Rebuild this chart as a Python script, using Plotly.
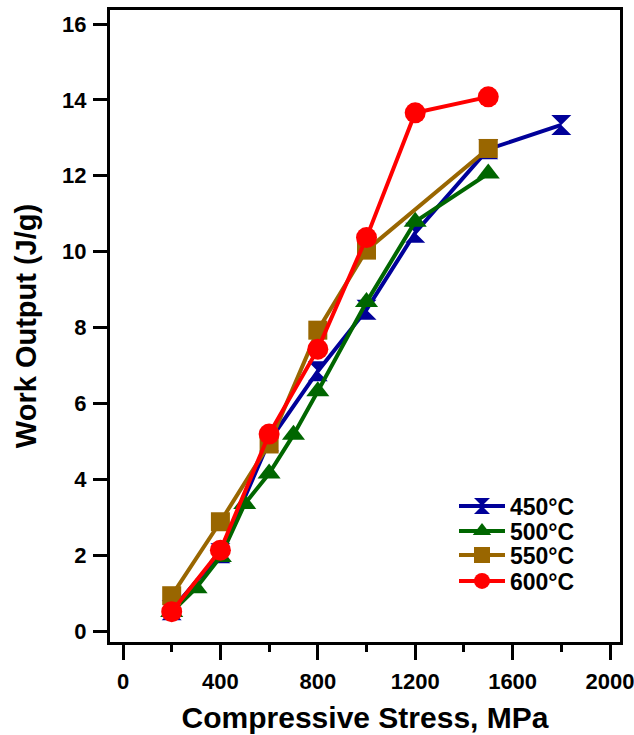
import plotly.graph_objects as go

# Data
stress_450 = [200, 400, 600, 800, 1000, 1200, 1500, 1800]
work_450 = [0.55, 2.05, 5.0, 6.85, 8.47, 10.5, 12.7, 13.34]

stress_500 = [200, 300, 400, 500, 600, 700, 800, 1000, 1200, 1500]
work_500 = [0.5, 1.13, 1.95, 3.35, 4.15, 5.17, 6.32, 8.67, 10.79, 12.06]

stress_550 = [200, 400, 600, 800, 1000, 1500]
work_550 = [0.93, 2.88, 4.93, 7.93, 10.04, 12.72]

stress_600 = [200, 400, 600, 800, 1000, 1200, 1500]
work_600 = [0.51, 2.13, 5.19, 7.43, 10.37, 13.66, 14.08]

series = [
    ("450°C", stress_450, work_450, "#000099", "hourglass", 20),
    ("500°C", stress_500, work_500, "#006600", "triangle-up", 20),
    ("550°C", stress_550, work_550, "#996600", "square", 19),
    ("600°C", stress_600, work_600, "#FF0000", "circle", 21),
]

FONT = "Liberation Sans, Arial, sans-serif"

# Body margin is removed by a small post script, so the figure fills the window.
W, H = 634, 735
# plot area in page pixels
PL, PR, PT, PB = 110, 620, 10, 642
ML, MR, MT, MB = PL, W - PR, PT, H - PB
PW, PH = PR - PL, PB - PT

legend_names = ["legend", "legend2", "legend3", "legend4"]
legend_centers_px = [506, 531, 555, 581]
legend_left_px = 454

fig = go.Figure()
for (name, xs, ys, color, sym, size), lg in zip(series, legend_names):
    fig.add_trace(go.Scatter(
        x=xs, y=ys, name=name, mode="lines+markers",
        line=dict(color=color, width=4),
        marker=dict(symbol=sym, size=size, color=color, line=dict(width=0)),
        legend=lg,
    ))

legend_layout = {}
for lg, cy in zip(legend_names, legend_centers_px):
    legend_layout[lg] = dict(
        x=(legend_left_px - PL) / PW, y=(PB - cy) / PH,
        xanchor="left", yanchor="middle",
        bgcolor="rgba(0,0,0,0)", borderwidth=0,
        font=dict(family=FONT, size=23, color="black", weight="bold"),
        itemwidth=46,
    )

fig.update_layout(
    width=W, height=H,
    margin=dict(l=ML, r=MR, t=MT, b=MB),
    paper_bgcolor="white", plot_bgcolor="white",
    font=dict(family=FONT, color="black", weight="bold"),
    showlegend=True,
    **legend_layout,
)

fig.update_xaxes(
    range=[-53.4, 2041], automargin=False,
    tickmode="linear", tick0=0, dtick=400,
    ticks="outside", ticklen=15, tickwidth=3, tickcolor="black",
    ticklabelstandoff=3, ticklabeloverflow="allow",
    minor=dict(ticks="outside", ticklen=7, tickwidth=3, tickcolor="black", dtick=200, tick0=0, showgrid=False),
    showline=True, linewidth=3, linecolor="black", mirror=True,
    showgrid=False, zeroline=False,
    tickfont=dict(family=FONT, size=22, color="black", weight="bold"),
    title=dict(text="Compressive Stress, MPa",
               font=dict(family=FONT, size=30, color="black", weight="bold"),
               standoff=14),
)

fig.update_yaxes(
    range=[-0.29, 16.37], automargin=False,
    tickmode="linear", tick0=0, dtick=2,
    ticks="outside", ticklen=14, tickwidth=3, tickcolor="black",
    ticklabelstandoff=2,
    showline=True, linewidth=3, linecolor="black", mirror=True,
    showgrid=False, zeroline=False,
    tickfont=dict(family=FONT, size=22, color="black", weight="bold"),
    title=dict(text="Work Output (J/g)",
               font=dict(family=FONT, size=29, color="black", weight="bold"),
               standoff=17),
)

fig.write_html(
    "out.html",
    config={"displayModeBar": False},
    post_script="document.body.style.margin='0';document.body.style.overflow='hidden';",
)
